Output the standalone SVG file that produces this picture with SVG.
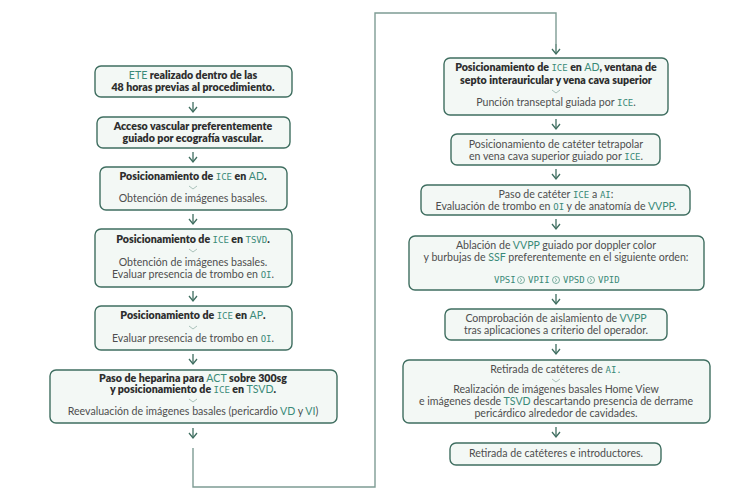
<svg xmlns="http://www.w3.org/2000/svg" width="750" height="500" viewBox="0 0 750 500">
<defs>
<style>
.box{fill:#f3f8f5;stroke:#3f6e60;stroke-width:1.4}
.t{font-family:Lato,"Liberation Sans",sans-serif;font-size:10.6px;text-anchor:middle}
.b{font-weight:800;fill:#2e2e2e}
.r{font-weight:400;fill:#4e4e4e}
.ab{fill:#3a8a78;font-weight:400}
.m{font-family:"DejaVu Sans Mono","Liberation Mono",monospace;font-size:9px;fill:#3a8a78;font-weight:400}
.chev{fill:none;stroke:#a9c2ba;stroke-width:1}
.arr{fill:none;stroke:#3f6e60;stroke-width:1.3}
.line{fill:none;stroke:#7e9c94;stroke-width:1.4}
.ci{fill:none;stroke:#5a9a8a;stroke-width:0.8}
</style>
<marker id="ah" viewBox="0 0 10 10" refX="8" refY="5" markerWidth="10" markerHeight="10" markerUnits="userSpaceOnUse" orient="auto">
<path d="M3,1 L8,5 L3,9" fill="none" stroke="#3f6e60" stroke-width="1.3"/>
</marker>
</defs>
<rect width="750" height="500" fill="#ffffff"/>

<g id="connectors">
<path class="arr" d="M193,102 V112" marker-end="url(#ah)"/>
<path class="arr" d="M193,152 V162" marker-end="url(#ah)"/>
<path class="arr" d="M193,214 V224" marker-end="url(#ah)"/>
<path class="arr" d="M193,291 V301" marker-end="url(#ah)"/>
<path class="arr" d="M193,354 V364" marker-end="url(#ah)"/>
<path class="arr" d="M193,428 V438" marker-end="url(#ah)"/>
<path class="line" d="M193,448 V487 H375 V13 H556 V44"/>
<path class="arr" d="M556,44 V54" marker-end="url(#ah)"/>
<path class="arr" d="M556,119 V129" marker-end="url(#ah)"/>
<path class="arr" d="M556,169 V179" marker-end="url(#ah)"/>
<path class="arr" d="M556,219 V229" marker-end="url(#ah)"/>
<path class="arr" d="M556,294 V304" marker-end="url(#ah)"/>
<path class="arr" d="M556,344 V354" marker-end="url(#ah)"/>
<path class="arr" d="M556,427 V437" marker-end="url(#ah)"/>
</g>

<g id="n1">
<rect class="box" x="95" y="66" width="197" height="31" rx="6"/>
<text class="t b" x="193" y="79"><tspan class="ab">ETE</tspan> realizado dentro de las</text>
<text class="t b" x="193" y="91">48 horas previas al procedimiento.</text>
</g>
<g id="n2">
<rect class="box" x="97" y="117" width="193" height="31" rx="6"/>
<text class="t b" x="193" y="130">Acceso vascular preferentemente</text>
<text class="t b" x="193" y="142">guiado por ecografía vascular.</text>
</g>
<g id="n3">
<rect class="box" x="100" y="167" width="187" height="43" rx="6"/>
<text class="t b" x="193" y="180">Posicionamiento de <tspan class="m">ICE</tspan> en <tspan class="ab">AD</tspan>.</text>
<path class="chev" d="M189,186 L193,189 L197,186"/>
<text class="t r" x="193" y="202">Obtención de imágenes basales.</text>
</g>
<g id="n4">
<rect class="box" x="95" y="229" width="197" height="58" rx="6"/>
<text class="t b" x="193" y="243">Posicionamiento de <tspan class="m">ICE</tspan> en <tspan class="m">TSVD</tspan>.</text>
<path class="chev" d="M189,249 L193,252 L197,249"/>
<text class="t r" x="193" y="266">Obtención de imágenes basales.</text>
<text class="t r" x="193" y="278">Evaluar presencia de trombo en <tspan class="m">OI</tspan>.</text>
</g>
<g id="n5">
<rect class="box" x="95" y="306" width="197" height="44" rx="6"/>
<text class="t b" x="193" y="319">Posicionamiento de <tspan class="m">ICE</tspan> en <tspan class="ab">AP</tspan>.</text>
<path class="chev" d="M189,326 L193,329 L197,326"/>
<text class="t r" x="193" y="342">Evaluar presencia de trombo en <tspan class="m">OI</tspan>.</text>
</g>
<g id="n6">
<rect class="box" x="50" y="370" width="287" height="53" rx="6"/>
<text class="t b" x="193" y="382">Paso de heparina para <tspan class="ab">ACT</tspan> sobre 300sg</text>
<text class="t b" x="193" y="393">y posicionamiento de <tspan class="m">ICE</tspan> en <tspan class="ab">TSVD</tspan>.</text>
<path class="chev" d="M189,399 L193,402 L197,399"/>
<text class="t r" x="193" y="415">Reevaluación de imágenes basales (pericardio <tspan class="ab">VD</tspan> y <tspan class="ab">VI</tspan>)</text>
</g>

<g id="n7">
<rect class="box" x="444" y="58" width="224" height="57" rx="6"/>
<text class="t b" x="556" y="71">Posicionamiento de <tspan class="m">ICE</tspan> en <tspan class="ab">AD</tspan>, ventana de</text>
<text class="t b" x="556" y="84">septo interauricular y vena cava superior</text>
<path class="chev" d="M552,90 L556,93 L560,90"/>
<text class="t r" x="556" y="106">Punción transeptal guiada por <tspan class="m">ICE</tspan>.</text>
</g>
<g id="n8">
<rect class="box" x="451" y="134" width="209" height="31" rx="6"/>
<text class="t r" x="556" y="148">Posicionamiento de catéter tetrapolar</text>
<text class="t r" x="556" y="160">en vena cava superior guiado por <tspan class="m">ICE</tspan>.</text>
</g>
<g id="n9">
<rect class="box" x="421" y="185" width="269" height="30" rx="6"/>
<text class="t r" x="556" y="198">Paso de catéter <tspan class="m">ICE</tspan> a <tspan class="m">AI</tspan>:</text>
<text class="t r" x="556" y="210">Evaluación de trombo en <tspan class="m">OI</tspan> y de anatomía de <tspan class="ab">VVPP</tspan>.</text>
</g>
<g id="n10">
<rect class="box" x="409" y="236" width="295" height="54" rx="6"/>
<text class="t r" x="556" y="249">Ablación de <tspan class="ab">VVPP</tspan> guiado por doppler color</text>
<text class="t r" x="556" y="261">y burbujas de <tspan class="ab">SSF</tspan> preferentemente en el siguiente orden:</text>
<text class="m" x="494" y="283">VPSI</text>
<circle class="ci" cx="521" cy="280" r="3.5"/><path class="ci" d="M520,278.3 L521.8,280 L520,281.7"/>
<text class="m" x="528" y="283">VPII</text>
<circle class="ci" cx="556" cy="280" r="3.5"/><path class="ci" d="M555,278.3 L556.8,280 L555,281.7"/>
<text class="m" x="563" y="283">VPSD</text>
<circle class="ci" cx="591" cy="280" r="3.5"/><path class="ci" d="M590,278.3 L591.8,280 L590,281.7"/>
<text class="m" x="598" y="283">VPID</text>
</g>
<g id="n11">
<rect class="box" x="445" y="309" width="222" height="31" rx="6"/>
<text class="t r" x="556" y="322">Comprobación de aislamiento de <tspan class="ab">VVPP</tspan></text>
<text class="t r" x="556" y="334">tras aplicaciones a criterio del operador.</text>
</g>
<g id="n12">
<rect class="box" x="403" y="360" width="307" height="63" rx="6"/>
<text class="t r" x="556" y="373">Retirada de catéteres de <tspan class="m">AI.</tspan></text>
<path class="chev" d="M552,379 L556,382 L560,379"/>
<text class="t r" x="556" y="393">Realización de imágenes basales Home View</text>
<text class="t r" x="556" y="405">e imágenes desde <tspan class="ab">TSVD</tspan> descartando presencia de derrame</text>
<text class="t r" x="556" y="417">pericárdico alrededor de cavidades.</text>
</g>
<g id="n13">
<rect class="box" x="450" y="443" width="211" height="22" rx="6"/>
<text class="t r" x="556" y="457">Retirada de catéteres e introductores.</text>
</g>
</svg>
